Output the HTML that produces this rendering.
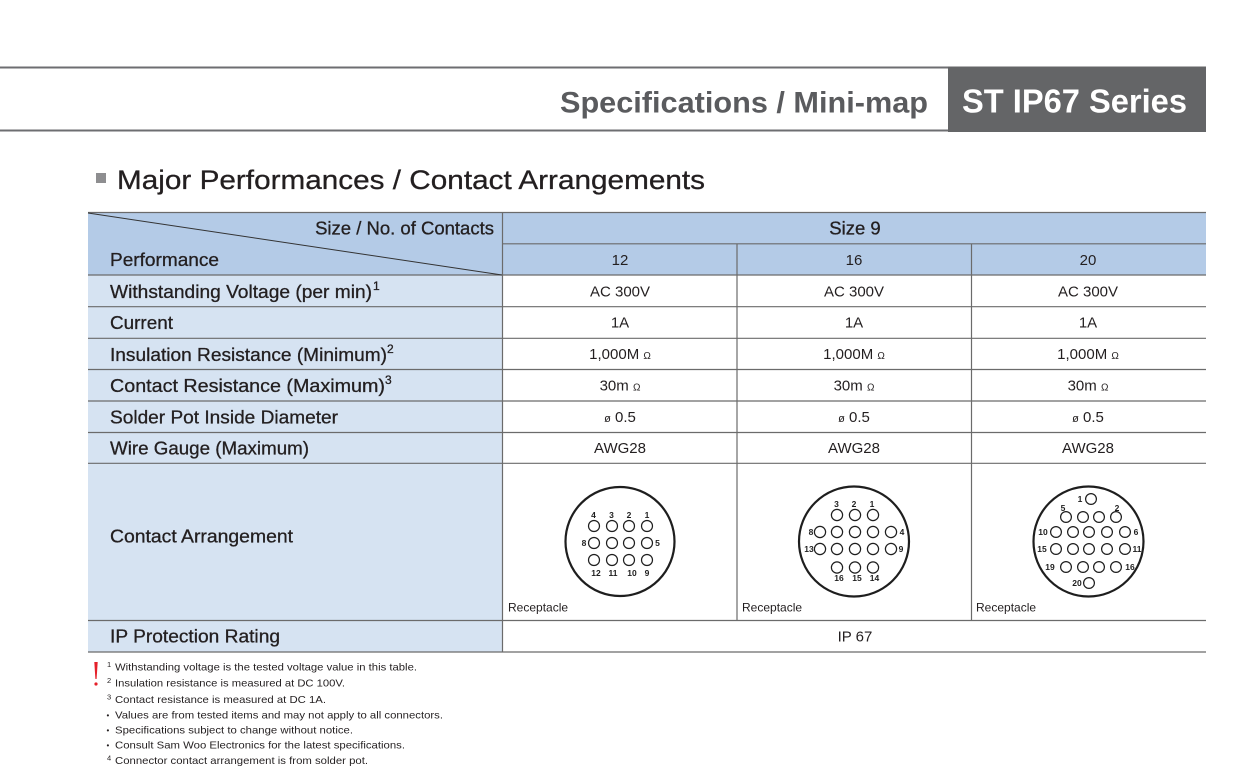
<!DOCTYPE html>
<html><head><meta charset="utf-8"><style>
html,body{margin:0;padding:0;background:#fff;}
svg{display:block;}
</style></head><body>
<svg width="1260" height="782" viewBox="0 0 1260 782" xmlns="http://www.w3.org/2000/svg" font-family="'Liberation Sans', Arial, sans-serif">
<rect width="1260" height="782" fill="#fff"/>
<!-- header -->
<rect x="0" y="66.5" width="948" height="2" fill="#6d6e71"/>
<rect x="0" y="129.5" width="948" height="2" fill="#6d6e71"/>
<rect x="948" y="66.5" width="258" height="65.5" fill="#646567"/>
<text x="560" y="112.5" font-size="29.5" font-weight="bold" fill="#5a5b5e" textLength="368" lengthAdjust="spacingAndGlyphs">Specifications / Mini-map</text>
<text x="962" y="112.5" font-size="33" font-weight="bold" fill="#ffffff" textLength="225" lengthAdjust="spacingAndGlyphs">ST IP67 Series</text>
<!-- title -->
<rect x="96" y="173" width="10" height="10" fill="#8e8e90"/>
<text x="117" y="189" font-size="27" fill="#231f20" stroke="#231f20" stroke-width="0.3" textLength="588" lengthAdjust="spacingAndGlyphs">Major Performances / Contact Arrangements</text>

<!-- table backgrounds -->
<rect x="88" y="212" width="1118" height="63" fill="#b4cbe7"/>
<rect x="88" y="275" width="414" height="377" fill="#d6e3f2"/>
<!-- grid lines -->
<g stroke="#6b6b6b" stroke-width="1.2" fill="none">
<line x1="88" y1="212.5" x2="1206" y2="212.5"/>
<line x1="502" y1="243.8" x2="1206" y2="243.8"/>
<line x1="88" y1="275" x2="1206" y2="275"/>
<line x1="88" y1="306.7" x2="1206" y2="306.7"/>
<line x1="88" y1="338.3" x2="1206" y2="338.3"/>
<line x1="88" y1="369.5" x2="1206" y2="369.5"/>
<line x1="88" y1="401" x2="1206" y2="401"/>
<line x1="88" y1="432.5" x2="1206" y2="432.5"/>
<line x1="88" y1="463.3" x2="1206" y2="463.3"/>
<line x1="88" y1="620.5" x2="1206" y2="620.5"/>
<line x1="88" y1="652" x2="1206" y2="652"/>
<line x1="502.5" y1="212" x2="502.5" y2="652"/>
<line x1="737" y1="243.8" x2="737" y2="620.5"/>
<line x1="971.5" y1="243.8" x2="971.5" y2="620.5"/>
</g>
<line x1="88" y1="213" x2="502" y2="275" stroke="#333" stroke-width="1"/>

<!-- header texts -->
<g fill="#231f20" font-size="18.5" stroke="#231f20" stroke-width="0.3">
<text x="494" y="234.5" text-anchor="end">Size / No. of Contacts</text>
<text x="110" y="266" textLength="109" lengthAdjust="spacingAndGlyphs">Performance</text>
<text x="855" y="234.5" text-anchor="middle">Size 9</text>
<text x="110" y="298" textLength="262" lengthAdjust="spacingAndGlyphs">Withstanding Voltage (per min)</text>
<text x="373" y="290" font-size="12">1</text>
<text x="110" y="329" textLength="63" lengthAdjust="spacingAndGlyphs">Current</text>
<text x="110" y="361" textLength="277" lengthAdjust="spacingAndGlyphs">Insulation Resistance (Minimum)</text>
<text x="387" y="353" font-size="12">2</text>
<text x="110" y="392" textLength="275" lengthAdjust="spacingAndGlyphs">Contact Resistance (Maximum)</text>
<text x="385" y="384" font-size="12">3</text>
<text x="110" y="423.5" textLength="228" lengthAdjust="spacingAndGlyphs">Solder Pot Inside Diameter</text>
<text x="110" y="454.5" textLength="199" lengthAdjust="spacingAndGlyphs">Wire Gauge (Maximum)</text>
<text x="110" y="542.5" textLength="183" lengthAdjust="spacingAndGlyphs">Contact Arrangement</text>
<text x="110" y="642.5" textLength="170" lengthAdjust="spacingAndGlyphs">IP Protection Rating</text>
</g>

<!-- data texts -->
<g fill="#231f20" font-size="15" text-anchor="middle">
<text x="620" y="265">12</text><text x="854" y="265">16</text><text x="1088" y="265">20</text>
<text x="620" y="296.5">AC 300V</text><text x="854" y="296.5">AC 300V</text><text x="1088" y="296.5">AC 300V</text>
<text x="620" y="327.5">1A</text><text x="854" y="327.5">1A</text><text x="1088" y="327.5">1A</text>
<text x="620" y="359">1,000M <tspan font-size="10">Ω</tspan></text><text x="854" y="359">1,000M <tspan font-size="10">Ω</tspan></text><text x="1088" y="359">1,000M <tspan font-size="10">Ω</tspan></text>
<text x="620" y="390.5">30m <tspan font-size="10">Ω</tspan></text><text x="854" y="390.5">30m <tspan font-size="10">Ω</tspan></text><text x="1088" y="390.5">30m <tspan font-size="10">Ω</tspan></text>
<text x="620" y="422"><tspan font-size="11">ø</tspan> 0.5</text><text x="854" y="422"><tspan font-size="11">ø</tspan> 0.5</text><text x="1088" y="422"><tspan font-size="11">ø</tspan> 0.5</text>
<text x="620" y="453">AWG28</text><text x="854" y="453">AWG28</text><text x="1088" y="453">AWG28</text>
<text x="855" y="641.5">IP 67</text>
</g>
<g fill="#231f20" font-size="12">
<text x="508" y="611.5">Receptacle</text>
<text x="742" y="611.5">Receptacle</text>
<text x="976" y="611.5">Receptacle</text>
</g>

<!-- diagrams -->
<g fill="none" stroke="#1e1e1e">
<circle cx="620" cy="541.5" r="54.5" stroke-width="2.2"/>
<circle cx="854" cy="541.5" r="55" stroke-width="2.2"/>
<circle cx="1088.5" cy="541.5" r="55" stroke-width="2.2"/>
</g>
<g fill="#fff" stroke="#1e1e1e" stroke-width="1.2">
<!-- circle 1 -->
<circle cx="594" cy="526" r="5.5"/><circle cx="612" cy="526" r="5.5"/><circle cx="629" cy="526" r="5.5"/><circle cx="647" cy="526" r="5.5"/>
<circle cx="594" cy="543" r="5.5"/><circle cx="612" cy="543" r="5.5"/><circle cx="629" cy="543" r="5.5"/><circle cx="647" cy="543" r="5.5"/>
<circle cx="594" cy="560" r="5.5"/><circle cx="612" cy="560" r="5.5"/><circle cx="629" cy="560" r="5.5"/><circle cx="647" cy="560" r="5.5"/>
<!-- circle 2 -->
<circle cx="837" cy="515" r="5.6"/><circle cx="855" cy="515" r="5.6"/><circle cx="873" cy="515" r="5.6"/>
<circle cx="820" cy="532" r="5.6"/><circle cx="837" cy="532" r="5.6"/><circle cx="855" cy="532" r="5.6"/><circle cx="873" cy="532" r="5.6"/><circle cx="891" cy="532" r="5.6"/>
<circle cx="820" cy="549" r="5.6"/><circle cx="837" cy="549" r="5.6"/><circle cx="855" cy="549" r="5.6"/><circle cx="873" cy="549" r="5.6"/><circle cx="891" cy="549" r="5.6"/>
<circle cx="837" cy="567.5" r="5.6"/><circle cx="855" cy="567.5" r="5.6"/><circle cx="873" cy="567.5" r="5.6"/>
<!-- circle 3 -->
<circle cx="1091" cy="499" r="5.4"/>
<circle cx="1066" cy="517" r="5.4"/><circle cx="1083" cy="517" r="5.4"/><circle cx="1099" cy="517" r="5.4"/><circle cx="1116" cy="517" r="5.4"/>
<circle cx="1056" cy="532" r="5.4"/><circle cx="1073" cy="532" r="5.4"/><circle cx="1089" cy="532" r="5.4"/><circle cx="1107" cy="532" r="5.4"/><circle cx="1125" cy="532" r="5.4"/>
<circle cx="1056" cy="549" r="5.4"/><circle cx="1073" cy="549" r="5.4"/><circle cx="1089" cy="549" r="5.4"/><circle cx="1107" cy="549" r="5.4"/><circle cx="1125" cy="549" r="5.4"/>
<circle cx="1066" cy="567" r="5.4"/><circle cx="1083" cy="567" r="5.4"/><circle cx="1099" cy="567" r="5.4"/><circle cx="1116" cy="567" r="5.4"/>
<circle cx="1089" cy="583" r="5.4"/>
</g>
<g fill="#1e1e1e" font-size="8.5" text-anchor="middle" font-weight="bold">
<text x="593.5" y="518">4</text><text x="611.5" y="518">3</text><text x="629" y="518">2</text><text x="647" y="518">1</text>
<text x="584" y="546">8</text><text x="657.5" y="546">5</text>
<text x="596" y="576">12</text><text x="613" y="576">11</text><text x="632" y="576">10</text><text x="647" y="576">9</text>
<text x="836.5" y="507">3</text><text x="854" y="507">2</text><text x="872" y="507">1</text>
<text x="811" y="535">8</text><text x="902" y="535">4</text>
<text x="809" y="552">13</text><text x="901" y="552">9</text>
<text x="839" y="581">16</text><text x="857" y="581">15</text><text x="874.5" y="581">14</text>
<text x="1080" y="502">1</text>
<text x="1063" y="511">5</text><text x="1117" y="511">2</text>
<text x="1043" y="535">10</text><text x="1136" y="535">6</text>
<text x="1042" y="552">15</text><text x="1137" y="552">11</text>
<text x="1050" y="570">19</text><text x="1130" y="570">16</text>
<text x="1077" y="586">20</text>
</g>

<!-- footnotes -->
<path d="M94.3 662 L97.7 662 L96.6 679 L95.4 679 Z" fill="#e5202a"/>
<circle cx="96" cy="684" r="1.6" fill="#e5202a"/>
<g fill="#231f20" font-size="10.5">
<text x="107" y="667" font-size="7.5">1</text>
<text x="115" y="670.5" textLength="302" lengthAdjust="spacingAndGlyphs">Withstanding voltage is the tested voltage value in this table.</text>
<text x="107" y="683" font-size="7.5">2</text>
<text x="115" y="686.5" textLength="230" lengthAdjust="spacingAndGlyphs">Insulation resistance is measured at DC 100V.</text>
<text x="107" y="699.5" font-size="7.5">3</text>
<text x="115" y="703" textLength="211" lengthAdjust="spacingAndGlyphs">Contact resistance is measured at DC 1A.</text>
<text x="106.5" y="718" font-size="8">•</text>
<text x="115" y="718.5" textLength="328" lengthAdjust="spacingAndGlyphs">Values are from tested items and may not apply to all connectors.</text>
<text x="106.5" y="733" font-size="8">•</text>
<text x="115" y="733.5" textLength="238" lengthAdjust="spacingAndGlyphs">Specifications subject to change without notice.</text>
<text x="106.5" y="748" font-size="8">•</text>
<text x="115" y="748.5" textLength="290" lengthAdjust="spacingAndGlyphs">Consult Sam Woo Electronics for the latest specifications.</text>
<text x="107" y="760.5" font-size="7.5">4</text>
<text x="115" y="764" textLength="253" lengthAdjust="spacingAndGlyphs">Connector contact arrangement is from solder pot.</text>
</g>
</svg>
</body></html>
